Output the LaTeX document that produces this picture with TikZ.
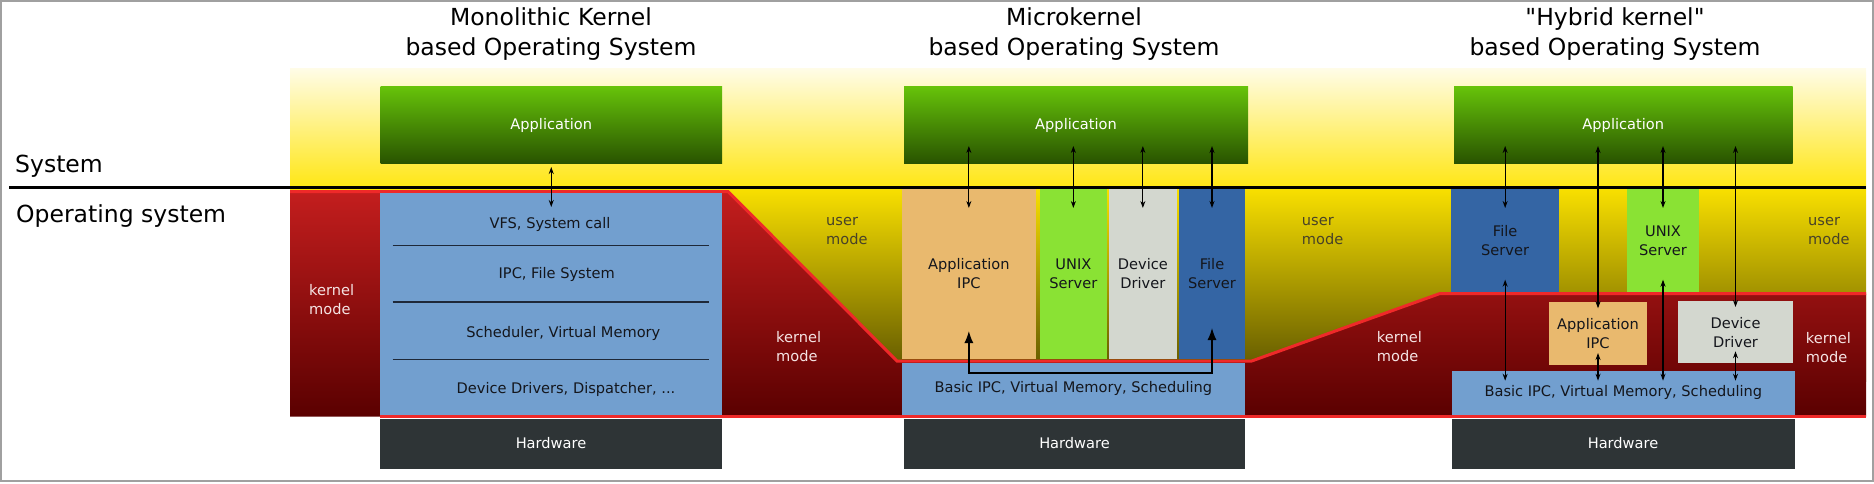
\documentclass[tikz,border=0pt]{standalone}
\usepackage{fontspec}
\newfontfamily\djv{DejaVu Sans}
\usetikzlibrary{arrows.meta,calc}

\definecolor{appTop}{RGB}{102,194,10}
\definecolor{appBot}{RGB}{40,82,0}
\definecolor{skyTop}{RGB}{255,252,230}
\definecolor{skyBot}{RGB}{255,230,20}
\definecolor{userTop}{RGB}{249,224,0}
\definecolor{userBot}{RGB}{88,80,0}
\definecolor{kernTop}{RGB}{196,30,30}
\definecolor{kernBot}{RGB}{90,0,0}
\definecolor{kernLine}{RGB}{239,41,41}
\definecolor{osBlue}{RGB}{114,159,207}
\definecolor{srvBlue}{RGB}{52,101,164}
\definecolor{srvGreen}{RGB}{138,226,52}
\definecolor{srvOrange}{RGB}{233,185,110}
\definecolor{srvGray}{RGB}{211,215,207}
\definecolor{hwGray}{RGB}{46,52,54}
\definecolor{frameGray}{RGB}{160,160,160}
\definecolor{userText}{RGB}{72,66,40}
\definecolor{kernText}{RGB}{245,228,228}
\definecolor{boxText}{RGB}{20,22,28}
\definecolor{sepLine}{RGB}{30,40,56}

\newcommand{\kfontsmall}{\djv\fontsize{14.6pt}{19pt}\selectfont}
\newcommand{\kfontbig}{\djv\fontsize{23.5pt}{30pt}\selectfont}

\begin{document}
\begin{tikzpicture}[x=1pt,y=-1pt,
        wh/.style 2 args={minimum width=#1pt,minimum height=#2pt},
        box/.style={anchor=north west,inner sep=0pt,outer sep=0pt,align=center,font=\kfontsmall,text=boxText},
        appbox/.style={box,top color=appTop,bottom color=appBot,text=white},
        osbox/.style={box,fill=osBlue},
        hwbox/.style={box,fill=hwGray,text=white},
        title/.style={align=center,font=\kfontbig},
        layer/.style={anchor=base west,inner sep=0pt,font=\kfontbig},
        usermode/.style={anchor=west,align=left,inner sep=0pt,font=\kfontsmall,text=userText},
        kernmode/.style={usermode,text=kernText},
        dbl/.style={{Stealth[length=7pt,width=5pt]}-{Stealth[length=7pt,width=5pt]},line width=1.1pt},
        bigdbl/.style={{Latex[length=12pt,width=9pt]}-{Latex[length=12pt,width=9pt]},line width=1.3pt}]

        \useasboundingbox (0,0) rectangle (1874,484);
        % Frame
        \draw[frameGray,line width=2pt] (1,1) rectangle (1872.5,480.5);

        % User space and kernel space
        \shade[top color=skyTop,bottom color=skyBot] (290,69) rectangle (1866,187.5);
        \shade[top color=userTop,bottom color=userBot] (290,188) rectangle (1866,381);
        \shade[top color=kernTop,bottom color=kernBot] (290,190.5) -- (728,190.5) -- (897,361) -- (1251.7,361)
            -- (1440,293.5) -- (1866,293.5) -- (1866,416.5) -- (290,416.5) -- cycle;
        \draw[kernLine,line width=3pt] (290,191.5) -- (728,191.5) -- (897,361) -- (1251.7,361) -- (1440,293.5) -- (1866,293.5);
        \draw[kernLine,line width=3pt] (380,416.5) -- (1866,416.5);
        \draw[line width=3pt] (9,187.5) -- (1866,187.5);

        % Titles
        \node[title] (tmono) at (551,34) {Monolithic Kernel\\based Operating System};
        \node[title] (tmicro) at (1074,34) {Microkernel\\based Operating System};
        \node[title] (thybrid) at (1615,34) {"Hybrid kernel"\\based Operating System};
        \node[layer] (lsys) at (15,172.7) {System};
        \node[layer] (los) at (16,222.7) {Operating system};

        % Monolithic kernel
        \node[appbox,wh={341.5}{77}] (mapp) at (380.5,87) {Application};
        \node[osbox,wh={342}{222}] (mkern) at (380,193) {};
        \node[hwbox,wh={342}{50}] (mhw) at (380,418.5) {Hardware};
        \foreach \y in {245.7,302,359.3}
            \draw[sepLine,line width=1.5pt] (392.5,\y) -- (709,\y);
        \node[font=\kfontsmall,text=boxText] (mvfs) at (550,224) {VFS, System call};
        \node[font=\kfontsmall,text=boxText] (mipc) at (556.7,274) {IPC, File System};
        \node[font=\kfontsmall,text=boxText] (msched) at (563.3,333) {Scheduler, Virtual Memory};
        \node[font=\kfontsmall,text=boxText] (mdrv) at (566,389) {Device Drivers, Dispatcher, ...};
        \draw[dbl] ($(mapp.south)+(0,3)$) -- ($(mapp.south |- mkern.north)+(0,14)$);

        % Microkernel
        \node[appbox,wh={344}{77}] (uapp) at (904,87) {Application};
        \node[box,fill=srvOrange,wh={134.3}{170}] (uipc) at (901.7,189) {Application\\IPC};
        \node[box,fill=srvGreen,wh={67.3}{170}] (uunix) at (1039.7,189) {UNIX\\Server};
        \node[box,fill=srvGray,wh={67.7}{170}] (udd) at (1109,189) {Device\\Driver};
        \node[box,fill=srvBlue,wh={66}{170}] (ufs) at (1179,189) {File\\Server};
        \node[osbox,wh={343.3}{52.3}] (ubasic) at (901.7,362.7) {Basic IPC, Virtual Memory, Scheduling};
        \node[hwbox,wh={341}{50}] (uhw) at (904,418.5) {Hardware};
        \foreach \srv in {uipc,uunix,udd,ufs}
            \draw[dbl] ($(\srv.north |- uapp.south)+(0,-18)$) -- ($(\srv.north)+(0,19)$);
        \draw[bigdbl] ($(uipc.south)+(0,-28)$) -- ++(0,42) -| ($(ufs.south)+(0,-31)$);

        % Hybrid kernel
        \node[appbox,wh={338.5}{77}] (happ) at (1454,87) {Application};
        \node[box,fill=srvBlue,wh={108.3}{102.7}] (hfs) at (1451,189) {File\\Server};
        \node[box,fill=srvGreen,wh={72.6}{102.7}] (hunix) at (1626.7,189) {UNIX\\Server};
        \node[box,fill=srvOrange,wh={97.4}{62.7}] (hipc) at (1549.3,302.3) {Application\\IPC};
        \node[box,fill=srvGray,wh={115.6}{62.3}] (hdd) at (1677.7,301) {Device\\Driver};
        \node[osbox,wh={343.3}{44.3}] (hbasic) at (1451.7,370.7) {Basic IPC, Virtual Memory, Scheduling};
        \node[hwbox,wh={343}{50}] (hhw) at (1451.5,418.5) {Hardware};
        \foreach \srv in {hfs,hunix}
            \draw[dbl] ($(\srv.north |- happ.south)+(0,-18)$) -- ($(\srv.north)+(0,19)$);
        \foreach \srv in {hipc,hdd}
            \draw[dbl] ($(\srv.north |- happ.south)+(0,-18)$) -- ($(\srv.north)+(0,6)$);
        \foreach \srv in {hfs,hunix,hipc,hdd}
            \draw[dbl] ($(\srv.south)+(0,-12)$) -- ($(\srv.south |- hbasic.north)+(0,10)$);

        % Modes
        \node[kernmode] (kmono) at (309,300) {kernel\\mode};
        \node[usermode] (umono) at (826,231) {user\\mode};
        \node[kernmode] (kmicro) at (776,347) {kernel\\mode};
        \node[usermode] (umicro) at (1301.7,231) {user\\mode};
        \node[kernmode] (khyb) at (1376.7,347) {kernel\\mode};
        \node[usermode] (uhyb) at (1808,231) {user\\mode};
        \node[kernmode] (khyb2) at (1805.7,347.7) {kernel\\mode};
\end{tikzpicture}
\end{document}
